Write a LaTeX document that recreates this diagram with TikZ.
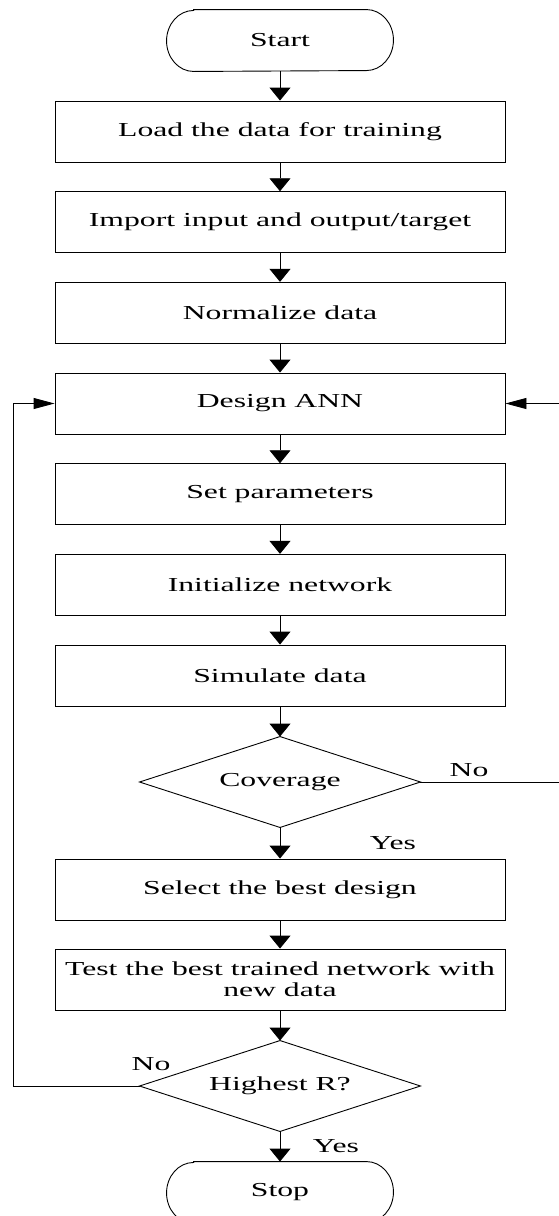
\documentclass[tikz,border=0pt]{standalone}
\usepackage{fontspec}
\setmainfont{Liberation Serif}[FakeStretch=1.6]
\usetikzlibrary{arrows.meta}
\begin{document}
\begin{tikzpicture}[x=1pt,y=-1pt,line width=0.9pt,
  every node/.style={font=\fontsize{19.8}{22}\selectfont},
  boxnode/.style={draw, minimum width=450pt, minimum height=61pt, inner sep=0pt},
  termnode/.style={minimum width=226pt, minimum height=61pt, inner sep=0pt},
  decnode/.style={minimum width=280pt, minimum height=90pt, inner sep=0pt},
  lbl/.style={inner sep=0pt},
  vflow/.style={-{Triangle[length=13pt,width=21pt]}},
  hflow/.style={-{Triangle[length=21pt,width=11pt]}}]
\useasboundingbox (0,0) rectangle (558,1216);

\node[termnode] (start) at (280,40.5) {Start};
\draw ([xshift=27pt]start.north west) -- ([xshift=-27pt]start.north east)
  arc[start angle=90,end angle=-90,x radius=27pt,y radius=30.5pt]
  -- ([xshift=27pt]start.south west)
  arc[start angle=270,end angle=90,x radius=27pt,y radius=30.5pt] -- cycle;

\node[boxnode] (load) at (280,131.5) {Load the data for training};
\node[boxnode] (import) at (280,222.2) {Import input and output/target};
\node[boxnode] (norm) at (280,312.8) {Normalize data};
\node[boxnode] (design) at (280,403.5) {Design ANN};
\node[boxnode] (setp) at (280,494.2) {Set parameters};
\node[boxnode] (init) at (280,584.8) {Initialize network};
\node[boxnode] (sim) at (280,675.5) {Simulate data};

\node[decnode] (cov) at (280,782) {Coverage};
\draw (cov.north) -- (cov.east) -- (cov.south) -- (cov.west) -- cycle;

\node[boxnode] (sel) at (280,889.5) {Select the best design};
\node[boxnode, align=center, font=\fontsize{19.8}{21}\selectfont] (test) at (280,979.5) {Test the best trained network with\\new data};

\node[decnode] (high) at (280,1086) {Highest R?};
\draw (high.north) -- (high.east) -- (high.south) -- (high.west) -- cycle;

\node[termnode] (stop) at (280,1192.5) {Stop};
\draw ([xshift=27pt]stop.north west) -- ([xshift=-27pt]stop.north east)
  arc[start angle=90,end angle=-90,x radius=27pt,y radius=30.5pt]
  -- ([xshift=27pt]stop.south west)
  arc[start angle=270,end angle=90,x radius=27pt,y radius=30.5pt] -- cycle;

\node[lbl] (no1) at (469,770) {No};
\node[lbl] (yes1) at (393,843) {Yes};
\node[lbl] (no2) at (151,1064) {No};
\node[lbl] (yes2) at (336,1146) {Yes};

\draw[vflow] (start.south) -- (load.north);
\draw[vflow] (load.south) -- (import.north);
\draw[vflow] (import.south) -- (norm.north);
\draw[vflow] (norm.south) -- (design.north);
\draw[vflow] (design.south) -- (setp.north);
\draw[vflow] (setp.south) -- (init.north);
\draw[vflow] (init.south) -- (sim.north);
\draw[vflow] (sim.south) -- (cov.north);
\draw[vflow] (cov.south) -- (sel.north);
\draw[vflow] (sel.south) -- (test.north);
\draw[vflow] (test.south) -- (high.north);
\draw[vflow] (high.south) -- (stop.north);

\coordinate (rc) at (560,782);
\coordinate (lc) at (13,1086);
\draw[hflow] (cov.east) -- (rc) |- (design.east);
\draw[hflow] (high.west) -- (lc) |- (design.west);
\end{tikzpicture}
\end{document}
